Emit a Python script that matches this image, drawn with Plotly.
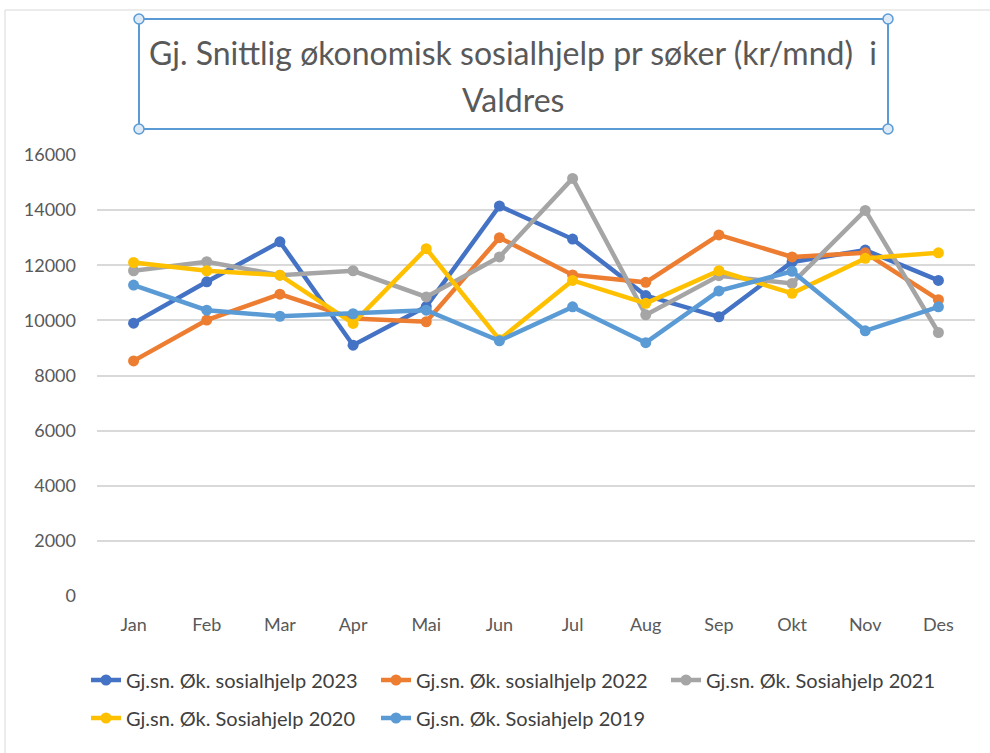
import plotly.graph_objects as go

months = ["Jan", "Feb", "Mar", "Apr", "Mai", "Jun", "Jul", "Aug", "Sep", "Okt", "Nov", "Des"]

s2023 = [9900, 11400, 12850, 9100, 10500, 14150, 12950, 10900, 10130, 12120, 12550, 11450]
s2022 = [8530, 10010, 10950, 10070, 9950, 13000, 11650, 11380, 13100, 12300, 12450, 10750]
s2021 = [11800, 12130, 11640, 11800, 10850, 12300, 15150, 10200, 11620, 11340, 13990, 9560]
s2020 = [12100, 11800, 11640, 9890, 12600, 9300, 11450, 10620, 11800, 10980, 12250, 12450]
s2019 = [11280, 10370, 10150, 10240, 10370, 9260, 10490, 9190, 11070, 11780, 9620, 10490]

names = ["Gj.sn. Øk. sosialhjelp 2023", "Gj.sn. Øk. sosialhjelp 2022", "Gj.sn. Øk. Sosiahjelp 2021",
         "Gj.sn. Øk. Sosiahjelp 2020", "Gj.sn. Øk. Sosiahjelp 2019"]
series = [s2023, s2022, s2021, s2020, s2019]
colors = ["#4472C4", "#ED7D31", "#A5A5A5", "#FFC000", "#5B9BD5"]
legend_rows = ["legend", "legend", "legend", "legend2", "legend2"]

title_line1 = "Gj. Snittlig økonomisk sosialhjelp pr søker (kr/mnd)  i"
title_line2 = "Valdres"

W, H = 990, 753
L, R, T, B = 97, 15, 155, 157
PW, PH = W - L - R, H - T - B

def px(x):
    return (x - L) / PW

def py(y):
    return 1 - (y - T) / PH

FONT = "Lato"
fig = go.Figure()
for nm, vals, c, lg in zip(names, series, colors, legend_rows):
    fig.add_trace(go.Scatter(x=months, y=vals, name=nm, mode="lines+markers",
                             line=dict(color=c, width=4.5),
                             marker=dict(color=c, size=11), legend=lg))

shapes = [
    dict(type="rect", xref="paper", yref="paper", x0=px(5), x1=px(1000), y0=py(10), y1=py(770),
         line=dict(color="#d9d9d9", width=1), fillcolor="rgba(0,0,0,0)", layer="below"),
    dict(type="rect", xref="paper", yref="paper", x0=px(139), x1=px(888), y0=py(19), y1=py(129),
         line=dict(color="#5B9BD5", width=2), fillcolor="rgba(0,0,0,0)"),
]
for cx, cy in [(139, 19), (888, 19), (139, 129), (888, 129)]:
    shapes.append(dict(type="circle", xref="paper", yref="paper",
                       x0=px(cx - 5), x1=px(cx + 5), y0=py(cy - 5), y1=py(cy + 5),
                       line=dict(color="#5B9BD5", width=1.5), fillcolor="#DEEBF7"))

annotations = [
    dict(text=title_line1, xref="paper", yref="paper", x=px(513), y=py(52), showarrow=False,
         xanchor="center", yanchor="middle", font=dict(family=FONT, size=32, color="#595959")),
    dict(text=title_line2, xref="paper", yref="paper", x=px(513), y=py(100), showarrow=False,
         xanchor="center", yanchor="middle", font=dict(family=FONT, size=32, color="#595959")),
]

leg_common = dict(orientation="h", xanchor="left", yanchor="middle",
                  entrywidth=245, entrywidthmode="pixels", traceorder="normal",
                  font=dict(family=FONT, size=20, color="#404040"), bgcolor="rgba(0,0,0,0)")

fig.update_layout(
    width=W, height=H,
    margin=dict(l=L, r=R, t=T, b=B, autoexpand=False),
    paper_bgcolor="white", plot_bgcolor="white",
    font=dict(family=FONT, color="#595959", size=18),
    shapes=shapes, annotations=annotations,
    legend=dict(x=px(86), y=py(680), **leg_common),
    legend2=dict(x=px(86), y=py(718), **leg_common),
    showlegend=True,
)
fig.update_xaxes(range=[-0.5, 11.5], showgrid=False, showline=False, zeroline=False,
                 ticks="", ticklabelstandoff=16, tickfont=dict(size=18, color="#595959"))
fig.update_yaxes(range=[0, 16000], dtick=2000, tickformat="d", showgrid=True, gridcolor="#d9d9d9",
                 gridwidth=1.5, zeroline=False, showline=False, ticks="", ticklabelstandoff=20,
                 tickfont=dict(size=18, color="#595959"))

fig.write_html("out.html", config={"displayModeBar": False},
               post_script="document.body.style.margin='0';")
